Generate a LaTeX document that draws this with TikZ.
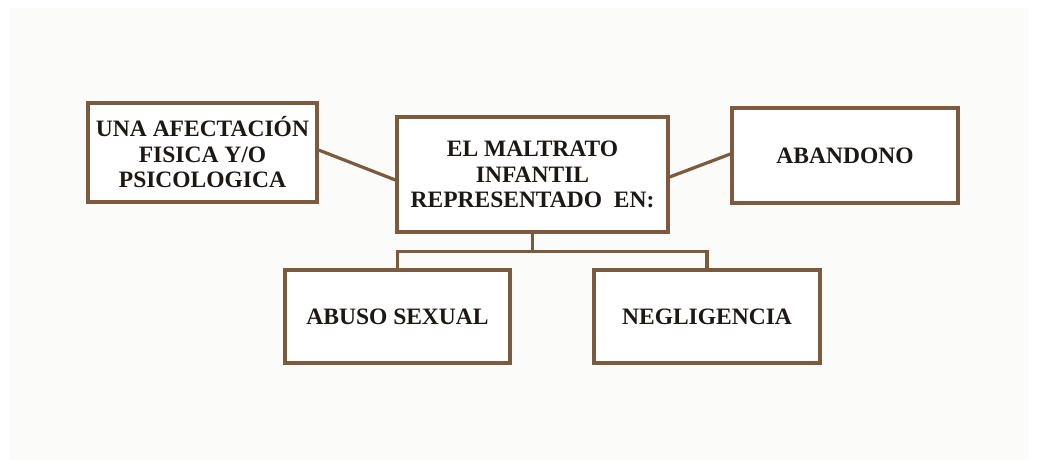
\documentclass[tikz,border=0pt]{standalone}
\usepackage{fontspec}
\setmainfont{Liberation Serif}
\usetikzlibrary{calc}
\definecolor{boxbrown}{RGB}{124,90,62}
\definecolor{txt}{RGB}{28,24,22}
\definecolor{paper}{RGB}{251,251,249}
\tikzset{
  cbox/.style={draw=boxbrown, line width=3.2pt, fill=white, inner sep=0pt, align=center,
    font=\fontsize{23.5}{25.5}\selectfont\bfseries, text=txt},
  link/.style={draw=boxbrown, line width=3.2pt}
}
\begin{document}
\begin{tikzpicture}[x=1pt,y=-1pt]
\useasboundingbox (0,0) rectangle (1038,466);
\fill[white] (0,0) rectangle (1038,466);
\fill[paper] (10,8) rectangle (1028,460);
\node[cbox, minimum width=229pt, minimum height=99pt] (lb) at (202.5,152.5) {UNA AFECTACIÓN\\FISICA Y/O\\PSICOLOGICA};
\node[cbox, minimum width=271pt, minimum height=115pt] (cb) at (532.5,174.5) {EL MALTRATO\\INFANTIL\\REPRESENTADO\ \ EN:};
\node[cbox, minimum width=226pt, minimum height=95pt] (rb) at (845,155.5) {ABANDONO};
\node[cbox, minimum width=225pt, minimum height=93pt] (bl) at (397.5,316.5) {ABUSO SEXUAL};
\node[cbox, minimum width=226pt, minimum height=93pt] (br) at (707,316.5) {NEGLIGENCIA};
\draw[link] ([yshift=2.5pt]lb.east) -- ([yshift=-5.5pt]cb.west);
\draw[link] ([yshift=-2.5pt]cb.east) -- ([yshift=1.5pt]rb.west);
\coordinate (j) at ($(cb.south)+(0,18)$);
\draw[link] (cb.south) -- (j);
\draw[link] (bl.north) |- (j) -| (br.north);
\end{tikzpicture}
\end{document}
